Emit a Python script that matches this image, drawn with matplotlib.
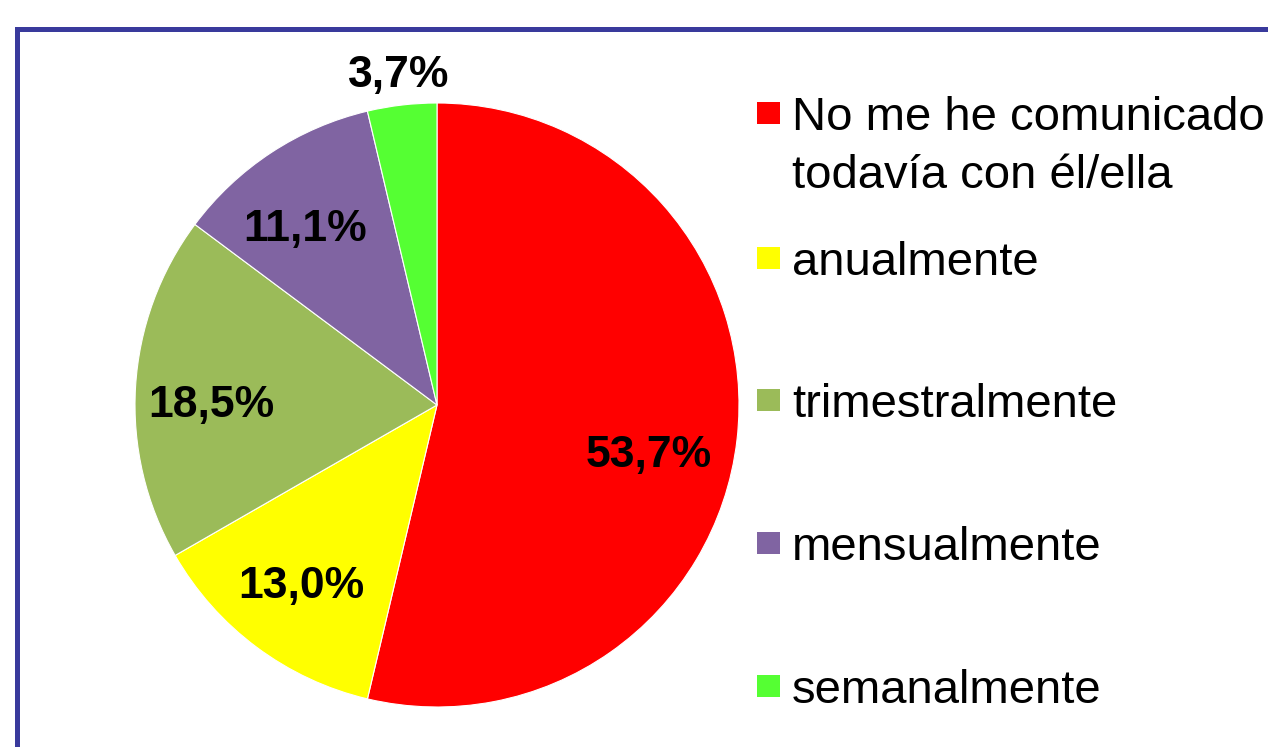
import matplotlib.pyplot as plt
from matplotlib.patches import Rectangle

# data
labels = ["No me he comunicado\ntodavía con él/ella", "anualmente",
          "trimestralmente", "mensualmente", "semanalmente"]
values = [53.7, 13.0, 18.5, 11.1, 3.7]
colors = ["#ff0000", "#ffff00", "#9bbb59", "#8064a2", "#55ff33"]

plt.rcParams['font.family'] = ['Liberation Sans', 'DejaVu Sans']

W, H = 1268, 747
fig = plt.figure(figsize=(W / 100, H / 100), dpi=100)

# pie: centre at (437, 405) px, radius ~302 px
cx, cy, r = 437, 405, 302
ax = fig.add_axes([(cx - r) / W, (H - cy - r) / H, 2 * r / W, 2 * r / H])

wedges, texts, autotexts = ax.pie(
    values, colors=colors, startangle=90, counterclock=False,
    autopct=lambda p: f"{p:.1f}%".replace(".", ","), pctdistance=0.75,
    wedgeprops=dict(edgecolor="white", linewidth=0.8), radius=1.0,
    textprops=dict(fontsize=32, fontweight="bold", color="black"))
ax.set_xlim(-1, 1)
ax.set_ylim(-1, 1)
ax.set_aspect("equal")

# the small last slice gets its label outside the pie
x, y = autotexts[-1].get_position()
autotexts[-1].set_position((x * 1.1 / 0.75, y * 1.1 / 0.75))
autotexts[-1].set_clip_on(False)
# nudge the other labels to where the original puts them
nudges = [(-0.045, -0.08), (0.0, 0.0), (0.0, -0.045), (-0.025, -0.045)]
for t, (ddx, ddy) in zip(autotexts, nudges):
    x, y = t.get_position()
    t.set_position((x + ddx, y + ddy))

# blue frame around the chart area (runs off the right and bottom)
fig.patches.append(Rectangle((16.5 / W, -0.1), 2, 1.1 - 28.5 / H,
                             transform=fig.transFigure, fill=False,
                             edgecolor="#393a9c", linewidth=3.6))

# legend drawn by hand so the marker lines up with the first text line
leg_y = [113, 258, 400, 543, 686]
for lab, col, yy in zip(labels, colors, leg_y):
    fig.patches.append(Rectangle((757 / W, (H - yy - 11) / H), 23 / W, 22 / H,
                                 transform=fig.transFigure,
                                 facecolor=col, edgecolor="none"))
    fig.text(792 / W, (H - yy) / H, lab.split("\n")[0], fontsize=34,
             va="center_baseline", ha="left")
    if "\n" in lab:
        fig.text(792 / W, (H - yy - 58) / H, lab.split("\n")[1], fontsize=34,
                 va="center_baseline", ha="left")

fig.savefig("out.png", dpi=100)
